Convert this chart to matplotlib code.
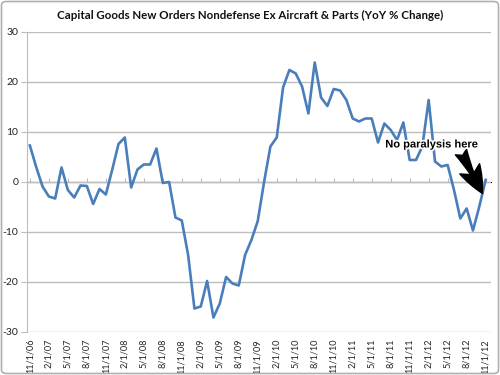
import matplotlib
matplotlib.use("Agg")
import matplotlib.pyplot as plt
import matplotlib.patheffects as pe
from matplotlib.patches import FancyBboxPatch
import numpy as np

# Monthly YoY % change, 11/1/06 .. 11/1/12
values = [
    7.3, 3.0, -0.9, -2.9, -3.3, 2.9, -1.6, -3.1, -0.7, -0.8, -4.4, -1.4,
    -2.5, 2.4, 7.6, 8.9, -1.1, 2.5, 3.5, 3.5, 6.7, -0.2, 0.0, -7.1,
    -7.7, -14.6, -25.3, -24.9, -19.8, -27.1, -24.3, -19.0, -20.3, -20.7, -14.6, -11.6,
    -7.8, 0.0, 7.1, 8.9, 18.9, 22.4, 21.7, 19.1, 13.7, 23.9, 16.9, 15.2,
    18.6, 18.3, 16.4, 12.7, 12.1, 12.7, 12.7, 7.9, 11.7, 10.4, 8.4, 11.9,
    4.4, 4.4, 7.1, 16.4, 4.1, 3.1, 3.4, -1.6, -7.3, -5.3, -9.7, -4.9,
    0.4,
]
start_month, start_year = 11, 2006
tick_step = 3
yticks = [-30, -20, -10, 0, 10, 20, 30]
title = "Capital Goods New Orders Nondefense Ex Aircraft & Parts (YoY % Change)"
note = "No paralysis here"

n = len(values)
x = np.arange(n)

def label(i):
    m = (start_month - 1 + i) % 12 + 1
    y = start_year + (start_month - 1 + i) // 12
    return f"{m}/1/{y % 100:02d}"

tick_pos = list(range(0, n, tick_step))
tick_labels = [label(i) for i in tick_pos]

plt.rcParams['font.family'] = ['Lato', 'DejaVu Sans']

fig = plt.figure(figsize=(5, 3.75), dpi=100)
fig.patches.append(FancyBboxPatch((0.003, 0.004), 0.994, 0.992,
                                  boxstyle="round,pad=0,rounding_size=0.01",
                                  transform=fig.transFigure, fill=False,
                                  edgecolor="#b0b0b0", linewidth=1.2))
ax = fig.add_axes([0.0534, 0.1147, 0.928, 0.80])

grid_c = "#bdbdbd"
ax.set_ylim(-30, 30)
ax.set_xlim(-0.5, 72.8)
ax.set_yticks(yticks)
ax.set_yticklabels([str(v) for v in yticks], fontsize=7.5, color="#222222")
for v in yticks:
    ax.axhline(v, color=grid_c, linewidth=1.0, zorder=1)

for s in ["top", "right", "bottom"]:
    ax.spines[s].set_visible(False)
ax.spines["left"].set_color(grid_c)
ax.tick_params(axis="y", length=4, color=grid_c, pad=2)

ax.set_xticks(tick_pos)
ax.set_xticklabels(tick_labels, rotation=90, fontsize=6.6, color="#222222")
ax.tick_params(axis="x", length=0, pad=5)

sec = ax.secondary_xaxis(0.5)
sec.set_xticks(tick_pos)
sec.set_xticklabels([])
sec.tick_params(axis="x", length=3, color=grid_c, direction="out")
sec.spines["bottom"].set_color(grid_c)

ax.plot(x, values, color="#4a7ebb", linewidth=1.9, zorder=3,
        solid_joinstyle="round")

fig.text(0.5, 0.958, title, ha="center", va="center", fontsize=8.3,
         fontweight="bold", color="#111111")

txt = ax.text(63.5, 7.5, note, ha="center", va="center", fontsize=8,
              fontweight="bold", family=["Liberation Sans"], color="black", zorder=5,
              path_effects=[pe.withStroke(linewidth=2.5, foreground="white")])
ax.annotate("", xy=(71.5, -2.3), xytext=(68.1, 6.0),
            arrowprops=dict(arrowstyle="fancy,head_length=1.0,head_width=0.8,tail_width=0.45",
                            color="black", mutation_scale=20, shrinkA=0, shrinkB=0),
            zorder=4)

fig.savefig("out.png", dpi=100)
